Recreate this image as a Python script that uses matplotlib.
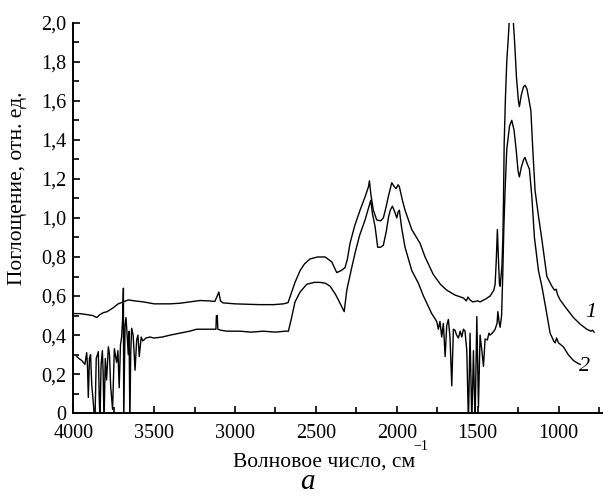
import matplotlib
matplotlib.use('Agg')
import matplotlib.pyplot as plt
from matplotlib.ticker import MultipleLocator, FuncFormatter

plt.rcParams['font.family'] = ['Liberation Serif', 'DejaVu Serif']

# curve 1 (upper)
wn1 = [4000, 3960, 3917, 3880, 3855, 3835, 3814, 3790, 3753, 3722, 3690, 3660,
       3620, 3567, 3500, 3450, 3402, 3340, 3280, 3216, 3160, 3125, 3110, 3100,
       3090, 3075, 3000, 2928, 2850, 2760, 2700, 2672, 2650, 2629, 2598, 2570,
       2536, 2490, 2443, 2402, 2371, 2345, 2320, 2305, 2289, 2260, 2227, 2195,
       2175, 2169, 2160, 2145, 2124, 2100, 2083, 2065, 2052, 2031, 2015, 2004,
       1992, 1984, 1965, 1949, 1907, 1856, 1825, 1774, 1730, 1691, 1640, 1588,
       1570, 1560, 1547, 1530, 1500, 1485, 1450, 1423, 1400, 1392, 1385, 1378,
       1372, 1365, 1361, 1350, 1344, 1340, 1336, 1328, 1320, 1310, 1302, 1285,
       1279, 1270, 1260, 1248, 1242, 1230, 1217, 1207, 1195, 1186, 1171, 1159,
       1145, 1124, 1103, 1072, 1041, 1025, 1015, 1005, 990, 950, 908, 865, 825,
       800, 790, 780]
abs1 = [0.51, 0.51, 0.505, 0.50, 0.49, 0.505, 0.515, 0.52, 0.54, 0.56, 0.57, 0.58,
        0.575, 0.57, 0.56, 0.56, 0.56, 0.563, 0.57, 0.577, 0.575, 0.572, 0.60, 0.62,
        0.575, 0.565, 0.56, 0.558, 0.556, 0.556, 0.56, 0.566, 0.62, 0.67, 0.73, 0.765,
        0.79, 0.80, 0.80, 0.775, 0.72, 0.73, 0.745, 0.79, 0.87, 0.96, 1.04, 1.11,
        1.16, 1.19, 1.12, 1.04, 0.99, 0.985, 1.0, 1.06, 1.11, 1.18, 1.16, 1.15,
        1.17, 1.16, 1.09, 1.04, 0.94, 0.87, 0.80, 0.71, 0.66, 0.63, 0.605, 0.59,
        0.575, 0.595, 0.58, 0.57, 0.575, 0.57, 0.585, 0.60, 0.63, 0.66, 0.78, 0.94,
        0.80, 0.66, 0.65, 0.75, 0.90, 1.10, 1.38, 1.62, 1.80, 1.93, 2.05, 2.05,
        2.0, 1.88, 1.72, 1.60, 1.57, 1.63, 1.67, 1.68, 1.66, 1.62, 1.55, 1.35,
        1.14, 1.01, 0.89, 0.70, 0.65, 0.63, 0.635, 0.605, 0.58, 0.535, 0.49, 0.455, 0.43,
        0.42, 0.425, 0.415]

# curve 2 (lower)
wn2 = [3979, 3965, 3948, 3938, 3928, 3917, 3912, 3907, 3900, 3893, 3886, 3876,
       3866, 3858, 3845, 3840, 3835, 3828, 3820, 3815, 3810, 3802, 3794, 3783,
       3776, 3769, 3757, 3746, 3740, 3732, 3724, 3716, 3708, 3701, 3695, 3690,
       3688, 3680, 3674, 3667, 3660, 3655, 3650, 3645, 3639, 3630, 3618, 3608,
       3600, 3592, 3580, 3570, 3550, 3526, 3500, 3450, 3400, 3340, 3280, 3237,
       3180, 3134, 3118, 3115, 3110, 3106, 3090, 3050, 2969, 2900, 2825, 2750,
       2690, 2670, 2650, 2629, 2598, 2557, 2510, 2474, 2440, 2412, 2380, 2361,
       2340, 2325, 2309, 2280, 2258, 2230, 2196, 2175, 2161, 2150, 2134, 2118,
       2100, 2083, 2065, 2052, 2040, 2027, 2012, 2000, 1992, 1984, 1970, 1949,
       1907, 1866, 1835, 1784, 1753, 1743, 1733, 1722, 1712, 1701, 1691, 1681,
       1671, 1660, 1650, 1640, 1630, 1619, 1608, 1598, 1588, 1578, 1567, 1557,
       1547, 1536, 1526, 1516, 1505, 1495, 1485, 1474, 1464, 1454, 1440, 1430,
       1423, 1410, 1400, 1392, 1380, 1375, 1368, 1361, 1352, 1345, 1338, 1330,
       1320, 1303, 1289, 1275, 1262, 1250, 1242, 1230, 1215, 1207, 1195, 1180,
       1165, 1149, 1124, 1103, 1077, 1052, 1030, 1021, 1012, 1000, 970, 940,
       908, 880, 866]
abs2 = [0.29, 0.28, 0.27, 0.26, 0.25, 0.31, 0.24, 0.08, 0.28, 0.30, 0.15, 0.05,
        -0.05, 0.28, 0.315, 0.10, -0.05, 0.25, 0.32, 0.20, -0.05, 0.28, 0.17, 0.34,
        0.30, 0.14, 0.02, 0.33, 0.30, 0.26, 0.32, 0.13, 0.35, 0.39, 0.48, 0.64,
        -0.05, 0.45, 0.49, 0.40, 0.30, 0.42, -0.05, 0.30, 0.435, 0.40, 0.22, 0.375,
        0.40, 0.29, 0.39, 0.37, 0.385, 0.39, 0.385, 0.39, 0.40, 0.41, 0.42, 0.43,
        0.43, 0.43, 0.43, 0.50, 0.50, 0.43, 0.425, 0.42, 0.42, 0.415, 0.42, 0.415,
        0.42, 0.42, 0.49, 0.57, 0.62, 0.66, 0.67, 0.67, 0.665, 0.65, 0.61, 0.58,
        0.545, 0.52, 0.63, 0.74, 0.82, 0.91, 0.99, 1.05, 1.09, 1.02, 0.955, 0.85,
        0.85, 0.86, 0.93, 1.0, 1.04, 1.06, 1.03, 1.0, 1.03, 1.04, 0.95, 0.85,
        0.73, 0.665, 0.60, 0.51, 0.47, 0.43, 0.47, 0.39, 0.46, 0.29, 0.45, 0.48,
        0.39, 0.14, 0.43, 0.425, 0.40, 0.385, 0.42, 0.39, 0.43, 0.42, 0.32, -0.05,
        0.41, -0.05, 0.32, -0.05, 0.495, 0.03, 0.40, 0.32, 0.24, 0.38, 0.375, 0.41,
        0.40, 0.41, 0.42, 0.43, 0.46, 0.52, 0.47, 0.44, 0.50, 0.70, 0.95, 1.15,
        1.35, 1.47, 1.50, 1.45, 1.35, 1.24, 1.21, 1.26, 1.30, 1.31, 1.28, 1.25,
        1.11, 0.90, 0.73, 0.65, 0.53, 0.41, 0.37, 0.36, 0.385, 0.36, 0.34, 0.30,
        0.27, 0.255, 0.25]


def comma_fmt(y, pos):
    if abs(y) < 1e-9:
        return '0'
    return f'{y:.1f}'.replace('.', ',')


fig = plt.figure(figsize=(6.03, 4.99), dpi=100)
ax = fig.add_axes([0.1215, 0.172, 0.8785, 0.7825])

ax.plot(wn1, abs1, color='black', lw=1.0)
ax.plot(wn2, abs2, color='black', lw=1.0)

ax.set_xlim(4000, 725)
ax.set_ylim(0, 2.0)

ax.xaxis.set_major_locator(MultipleLocator(500))
ax.xaxis.set_minor_locator(MultipleLocator(250))
ax.yaxis.set_major_locator(MultipleLocator(0.2))
ax.yaxis.set_minor_locator(MultipleLocator(0.1))
ax.yaxis.set_major_formatter(FuncFormatter(comma_fmt))

ax.spines['top'].set_visible(False)
ax.spines['right'].set_visible(False)
ax.spines['left'].set_linewidth(1.4)
ax.spines['bottom'].set_linewidth(1.4)
ax.tick_params(which='major', direction='in', length=5, width=1.2, labelsize=14.5)
ax.tick_params(axis='x', which='major', pad=8)
ax.tick_params(axis='y', which='major', pad=5)
ax.tick_params(which='minor', direction='in', length=4, width=1.2)

# axis titles placed as in the reference
fig.text(0.537, 1 - 462 / 499, 'Волновое число, см', fontsize=15.5, ha='center', va='center')
fig.text(421 / 603, 1 - 447 / 499, '−1', fontsize=10, ha='center', va='center')
fig.text(18 / 603, 1 - 188 / 499, 'Поглощение, отн. ед.', fontsize=15.5,
         rotation=90, ha='center', va='center')

ax.text(800, 0.515, '1', fontsize=16, style='italic', ha='center', va='center')
ax.text(838, 0.24, '2', fontsize=16, style='italic', ha='center', va='center')

fig.text(307 / 603, 1 - 482 / 499, 'а', fontsize=21, style='italic', ha='center', va='center')

fig.savefig('out.png', dpi=100)
